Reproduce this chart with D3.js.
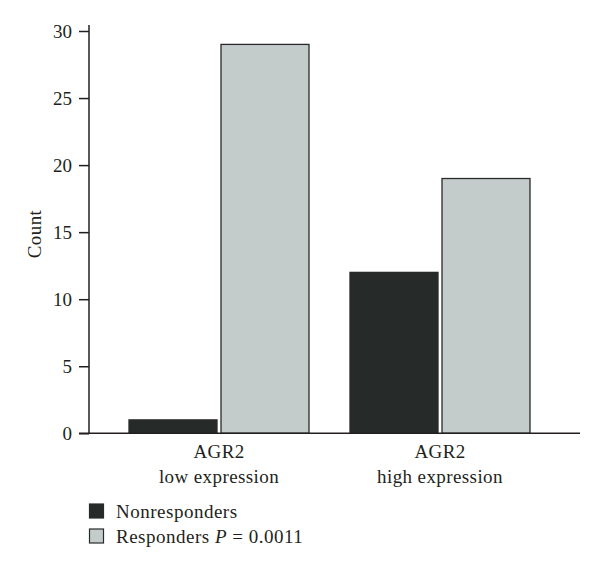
<!DOCTYPE html>
<html><head><meta charset="utf-8">
<script src="https://cdn.jsdelivr.net/npm/d3@7"></script>
<style>body{margin:0;background:#fff}svg{display:block}text{font-family:"Liberation Serif","Times New Roman",serif;fill:#231f20}</style>
</head><body><svg id="c" width="600" height="572"></svg>
<script>
const groups = ["low", "high"];
const groupLine1 = ["AGR2", "AGR2"];
const groupLine2 = ["low expression", "high expression"];
const seriesNames = ["Nonresponders", "Responders"];
const nonresponders = [1, 12];
const responders = [29, 19];
const yTicks = [0, 5, 10, 15, 20, 25, 30];
const colors = ["#262b2a", "#c3cccb"];

const FS = 19;
const svg = d3.select("#c");
const y = d3.scaleLinear().domain([0, 30]).range([433.3, 31]);
const x0 = d3.scaleBand().domain(groups).range([129, 530]).paddingInner(41/221).paddingOuter(0);
const x1 = d3.scaleBand().domain(seriesNames).range([0, x0.bandwidth()]).paddingInner(4/92).paddingOuter(0);

const data = groups.map((g, i) => ({g, vals: [nonresponders[i], responders[i]]}));

// bars
const gg = svg.selectAll("g.grp").data(data).enter().append("g")
  .attr("transform", d => `translate(${x0(d.g)},0)`);
gg.selectAll("rect").data(d => d.vals.map((v, j) => ({v, s: seriesNames[j], j}))).enter().append("rect")
  .attr("x", d => x1(d.s)).attr("width", x1.bandwidth())
  .attr("y", d => y(d.v)).attr("height", d => y(0) - y(d.v))
  .attr("fill", d => colors[d.j]).attr("stroke", "#2a2a2a").attr("stroke-width", 1.3);

// y axis
const ya = svg.append("g").attr("transform", "translate(89,0)")
  .call(d3.axisLeft(y).tickValues(yTicks).tickSize(10).tickSizeOuter(0).tickPadding(7));
ya.attr("font-size", null).attr("font-family", null);
ya.select(".domain").remove();
ya.selectAll(".tick line").attr("stroke", "#231f20").attr("stroke-width", 1.5);
ya.selectAll(".tick text").attr("font-size", FS).attr("font-family", "Liberation Serif").attr("fill", "#231f20").attr("dy", "0.34em");
svg.append("line").attr("x1", 89).attr("x2", 89).attr("y1", 25).attr("y2", y(0))
  .attr("stroke", "#231f20").attr("stroke-width", 1.5);
// x axis baseline
svg.append("line").attr("x1", 79).attr("x2", 580).attr("y1", y(0)).attr("y2", y(0))
  .attr("stroke", "#231f20").attr("stroke-width", 1.5);

// group labels
groups.forEach((g, i) => {
  const cx = x0(g) + x0.bandwidth() / 2;
  svg.append("text").attr("x", cx).attr("y", 458).attr("text-anchor", "middle").attr("font-size", FS).attr("letter-spacing", 0.4).text(groupLine1[i]);
  svg.append("text").attr("x", cx).attr("y", 483).attr("text-anchor", "middle").attr("font-size", FS).attr("letter-spacing", 0.4).text(groupLine2[i]);
});

// y label
svg.append("text").attr("transform", "translate(41,234) rotate(-90)").attr("text-anchor", "middle")
  .attr("font-size", FS).attr("letter-spacing", 0.4).text("Count");

// legend
const lg = svg.append("g");
seriesNames.forEach((s, i) => {
  const yy = 504 + i * 25;
  lg.append("rect").attr("x", 89.5).attr("y", yy).attr("width", 14).attr("height", 14)
    .attr("fill", colors[i]).attr("stroke", "#2a2a2a").attr("stroke-width", 1.2);
  const t = lg.append("text").attr("x", 116).attr("y", yy + 14).attr("font-size", FS).attr("letter-spacing", 0.5);
  if (i === 0) t.text(s);
  else {
    t.append("tspan").text(s + " ");
    t.append("tspan").attr("font-style", "italic").text("P");
    t.append("tspan").text(" = 0.0011");
  }
});
</script></body></html>
